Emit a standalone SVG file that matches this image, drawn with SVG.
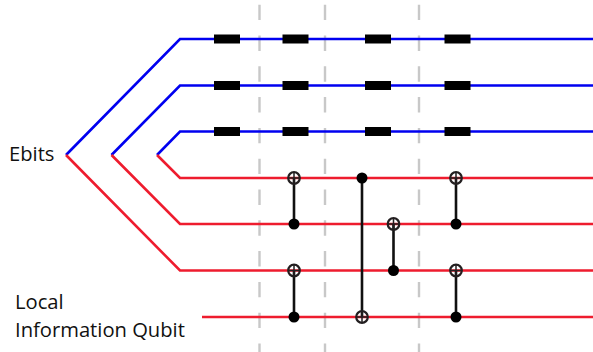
<svg xmlns="http://www.w3.org/2000/svg" width="593" height="352" viewBox="0 0 593 352">
<style>
.d{fill:none;stroke:#c8c8c8;stroke-width:2.4;stroke-dasharray:15.4 15.4}
.b{fill:none;stroke:#0000f0;stroke-width:2.6}
.r{fill:none;stroke:#ee1c2e;stroke-width:2.6}
.g{fill:#000}
.v{stroke:#111;stroke-width:2.6}
.t{fill:none;stroke:#231f20;stroke-width:2.2}
.x{fill:none;stroke:#231f20;stroke-width:1.5}
.c{fill:#000}
text{font-family:"Open Sans","Noto Sans",sans-serif;font-size:20.2px;fill:#111}
</style>
<defs>
<g id="target"><circle class="t" r="5.800"/><path class="x" d="M-5.800 0H5.800M0-5.800V5.800"/></g>
</defs>
<g id="barriers">
<path class="d" d="M259.5 4.7V352"/>
<path class="d" d="M325 4.7V352"/>
<path class="d" d="M419 4.7V352"/>
</g>
<g id="connectors">
<path class="b" d="M66 155L180 39H593"/>
<path class="b" d="M111.500 155L180 85.500H593"/>
<path class="b" d="M157 155L180 131.500H593"/>
<path class="r" d="M66 155L180 270.500H593"/>
<path class="r" d="M111.500 155L180 224H593"/>
<path class="r" d="M157 155L180 178H593"/>
<path class="r" d="M202 317H593"/>
<path class="v" d="M294 178V224M294 270.500V317M362 178V317M393.500 224V270.500M456 178V224M456 270.500V317"/>
</g>
<g id="gates">
<rect class="g" x="214" y="34.500" width="26" height="9"/><rect class="g" x="282.500" y="34.500" width="26" height="9"/><rect class="g" x="365" y="34.500" width="26" height="9"/><rect class="g" x="444.500" y="34.500" width="26" height="9"/>
<rect class="g" x="214" y="81" width="26" height="9"/><rect class="g" x="282.500" y="81" width="26" height="9"/><rect class="g" x="365" y="81" width="26" height="9"/><rect class="g" x="444.500" y="81" width="26" height="9"/>
<rect class="g" x="214" y="127" width="26" height="9"/><rect class="g" x="282.500" y="127" width="26" height="9"/><rect class="g" x="365" y="127" width="26" height="9"/><rect class="g" x="444.500" y="127" width="26" height="9"/>
</g>
<g id="cnots">
<use href="#target" x="294" y="178"/><circle class="c" cx="294" cy="224" r="5.500"/>
<use href="#target" x="294" y="270.500"/><circle class="c" cx="294" cy="317" r="5.500"/>
<circle class="c" cx="362" cy="178" r="5.500"/><use href="#target" x="362" y="317"/>
<use href="#target" x="393.500" y="224"/><circle class="c" cx="393.500" cy="270.500" r="5.500"/>
<use href="#target" x="456" y="178"/><circle class="c" cx="456" cy="224" r="5.500"/>
<use href="#target" x="456" y="270.500"/><circle class="c" cx="456" cy="317" r="5.500"/>
</g>
<g id="label-ebits"><text x="9" y="161">Ebits</text></g>
<g id="label-local"><text x="15" y="309">Local</text><text x="15" y="336.500">Information Qubit</text></g>
</svg>
